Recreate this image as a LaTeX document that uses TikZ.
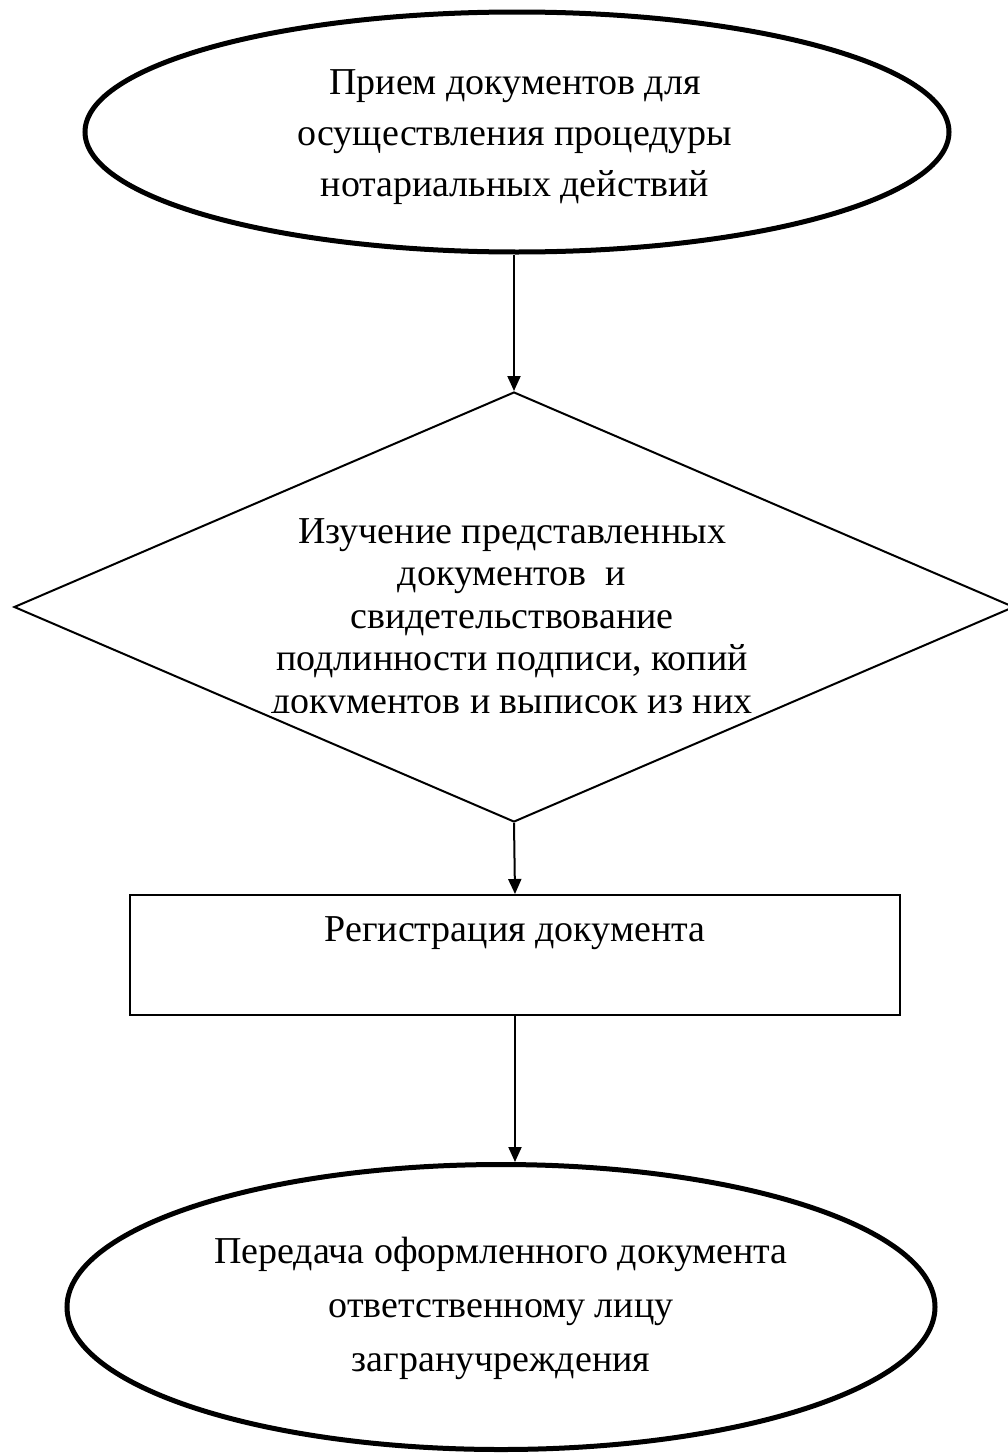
\documentclass[tikz,border=0pt]{standalone}
\usepackage{fontspec}
\setmainfont{Liberation Serif}
\usetikzlibrary{shapes.geometric,arrows.meta}
\begin{document}
\begin{tikzpicture}[x=1pt,y=-1pt,
  txt/.style={font=\fontsize{38}{51}\selectfont, align=center},
  oval/.style={ellipse, draw, line width=5pt, inner sep=0pt},
  dia/.style={diamond, draw, line width=2pt, inner sep=0pt},
  boxstyle/.style={rectangle, draw, line width=2pt, inner sep=0pt},
  arr/.style={line width=2pt, -{Triangle[width=13pt,length=15pt]}}]
\useasboundingbox (0,0) rectangle (1008,1456);
% top ellipse
\node[oval, minimum width=864pt, minimum height=240pt] (top) at (517,132) {};
\node[txt] (toptext) at (515,137) {Прием документов для\\осуществления процедуры\\нотариальных действий};
% diamond
\node[dia, minimum width=1000pt, minimum height=430pt] (dm) at (514,607) {};
\begin{scope}
\clip (0,0) rectangle (1008,712);
\node[txt, font=\fontsize{38}{42.5}\selectfont] (dmtext) at (512,620) {Изучение представленных\\документов\ \ и\\свидетельствование\\подлинности подписи, копий\\документов и выписок из них};
\end{scope}
% box
\node[boxstyle, minimum width=770pt, minimum height=120pt] (reg) at (515,955) {};
\node[txt] (regtext) at (515,933) {Регистрация документа};
% bottom ellipse
\node[oval, minimum width=868pt, minimum height=285pt] (bot) at (501,1307) {};
\node[txt, font=\fontsize{38}{54}\selectfont] (bottext) at (501,1308) {Передача оформленного документа\\ответственному лицу\\загранучреждения};
% arrows
\draw[arr] (top.south -| dm.north) -- (dm.north);
\draw[arr] (dm.south) -- (reg.north);
\draw[arr] (reg.south) -- (reg.south |- bot.north);
\end{tikzpicture}
\end{document}
